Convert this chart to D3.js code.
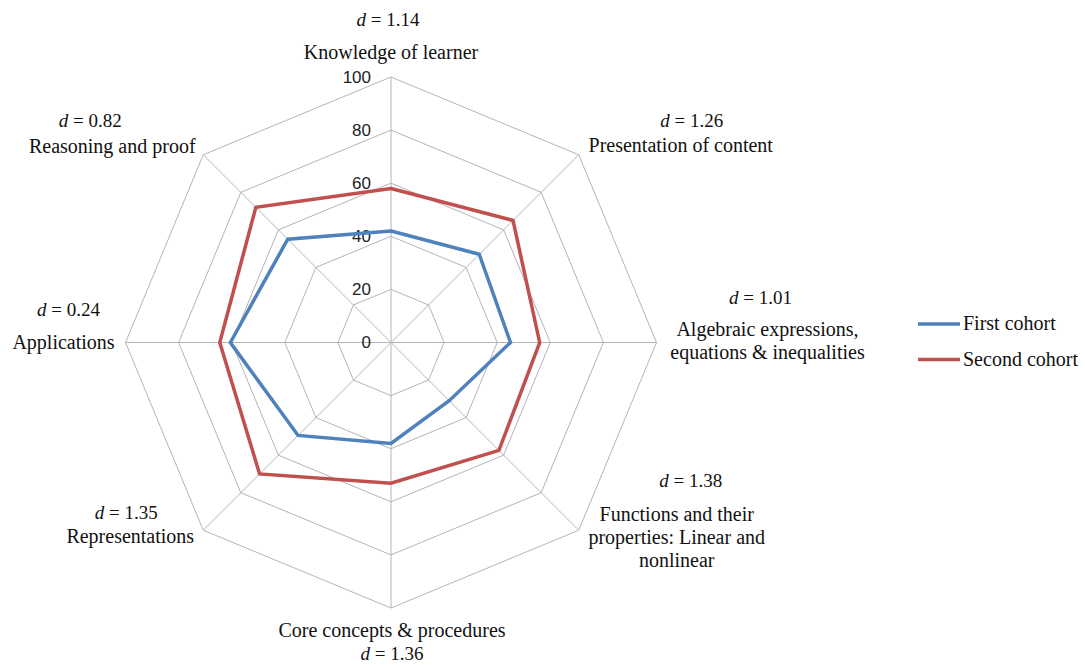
<!DOCTYPE html>
<html>
<head>
<meta charset="utf-8">
<script src="https://cdn.jsdelivr.net/npm/d3@7"></script>
<style>
  html, body { margin: 0; padding: 0; background: #fff; }
  svg { display: block; }
  .cat { font-family: "Liberation Serif", "Times New Roman", serif; font-size: 20px; fill: #111; }
  .dval { font-family: "Liberation Serif", "Times New Roman", serif; font-size: 19px; fill: #111; }
  .tick { font-family: "Liberation Sans", Arial, sans-serif; font-size: 17px; fill: #222; }
</style>
</head>
<body>
<svg id="chart" width="1085" height="665"></svg>
<script>
// Chart data
const categories = [
    ['Knowledge of learner'],
    ['Presentation of content'],
    ['Algebraic expressions,', 'equations & inequalities'],
    ['Functions and their', 'properties: Linear and', 'nonlinear'],
    ['Core concepts & procedures'],
    ['Representations'],
    ['Applications'],
    ['Reasoning and proof']
];
const dValues = ['1.14', '1.26', '1.01', '1.38', '1.36', '1.35', '0.24', '0.82'];
const firstCohort = [42, 47, 45, 31, 38, 49.5, 60.5, 55];
const secondCohort = [58, 65, 56, 57.5, 53, 70, 64.5, 72];
const ticks = [0, 20, 40, 60, 80, 100];
const seriesNames = ['First cohort', 'Second cohort'];
const seriesColors = ['#4f81bd', '#c0504d'];

// Label offsets relative to each outer vertex (layout only)
const labelLayout = [
    { d: [-3, -51], name: [0, -18] },
    { d: [113, -28], name: [102, -3] },
    { d: [104, -39], name: [111, -7] },
    { d: [112, -43], name: [98, -9] },
    { d: [1, 52], name: [1, 29] },
    { d: [-77, -11], name: [-73, 13] },
    { d: [-57, -27], name: [-62, 6] },
    { d: [-113, -28], name: [-91, -2] }
];
const lineGap = 23;

const svg = d3.select('#chart');
const cx = 391, cy = 342.5, R = 265.5;

const r = d3.scaleLinear().domain([0, 100]).range([0, R]);
const angle = d3.scaleLinear().domain([0, categories.length]).range([0, 2 * Math.PI]);

function point(i, v) {
    const a = angle(i);
    return [cx + r(v) * Math.sin(a), cy - r(v) * Math.cos(a)];
}

// Grid rings
const grid = svg.append('g');
ticks.filter(t => t > 0).forEach(t => {
    grid.append('polygon')
        .attr('points', categories.map((c, i) => point(i, t).join(',')).join(' '))
        .attr('fill', 'none')
        .attr('stroke', '#b4b4b4')
        .attr('stroke-width', 1);
});

// Spokes
categories.forEach((c, i) => {
    const [x, y] = point(i, 100);
    grid.append('line')
        .attr('x1', cx).attr('y1', cy)
        .attr('x2', x).attr('y2', y)
        .attr('stroke', '#b4b4b4')
        .attr('stroke-width', 1);
});

// Tick labels
svg.append('g').selectAll('text')
    .data(ticks)
    .enter()
    .append('text')
    .attr('class', 'tick')
    .attr('x', cx - 20)
    .attr('y', d => cy - r(d))
    .attr('text-anchor', 'end')
    .attr('dominant-baseline', 'central')
    .text(d => d);

// Series
const line = d3.lineRadial()
    .angle((d, i) => angle(i))
    .radius(d => r(d))
    .curve(d3.curveLinearClosed);

[firstCohort, secondCohort].forEach((series, k) => {
    svg.append('path')
        .attr('transform', `translate(${cx},${cy})`)
        .attr('d', line(series))
        .attr('fill', 'none')
        .attr('stroke', seriesColors[k])
        .attr('stroke-width', 3.5)
        .attr('stroke-linejoin', 'miter');
});

// Category labels and effect sizes
categories.forEach((lines, i) => {
    const [vx, vy] = point(i, 100);
    const lay = labelLayout[i];

    const dt = svg.append('text')
        .attr('class', 'dval')
        .attr('x', vx + lay.d[0])
        .attr('y', vy + lay.d[1])
        .attr('text-anchor', 'middle');
    dt.append('tspan').attr('font-style', 'italic').text('d');
    dt.append('tspan').text(' = ' + dValues[i]);

    lines.forEach((txt, j) => {
        svg.append('text')
            .attr('class', 'cat')
            .attr('x', vx + lay.name[0])
            .attr('y', vy + lay.name[1] + j * lineGap)
            .attr('text-anchor', 'middle')
            .text(txt);
    });
});

// Legend
const legend = svg.append('g').attr('transform', 'translate(918, 324)');
seriesNames.forEach((name, k) => {
    const g = legend.append('g').attr('transform', `translate(0, ${k * 35.5})`);
    g.append('line')
        .attr('x1', 0).attr('x2', 42)
        .attr('y1', 0).attr('y2', 0)
        .attr('stroke', seriesColors[k])
        .attr('stroke-width', 3.5);
    g.append('text')
        .attr('class', 'cat')
        .attr('x', 45)
        .attr('y', 6)
        .text(name);
});
</script>
</body>
</html>
